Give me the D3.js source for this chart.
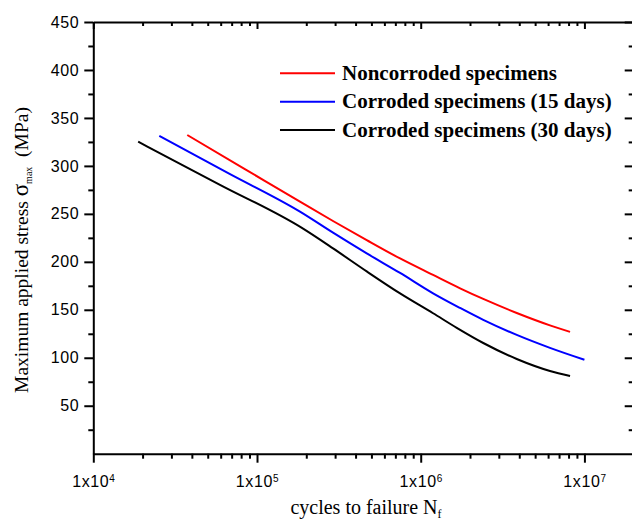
<!DOCTYPE html>
<html lang="en">
<head>
    <meta charset="UTF-8">
    <title>S-N curves</title>
    <script src="https://d3js.org/d3.v7.min.js"></script>
    <style>
        body { margin: 0; background: #fff; }
        .tick text { font-family: Arial, "Liberation Sans", sans-serif; font-size: 16px; fill: #000; }
        .domain, .tick line { stroke: #000; stroke-width: 2px; }
    </style>
</head>
<body>
    <div class="canvas"></div>
    <script>
      // series
      const seriesNames = ['Noncorroded specimens', 'Corroded specimens (15 days)', 'Corroded specimens (30 days)'];
      const seriesColors = ['#ff0000', '#0000ff', '#000000'];

      const cyclesNon = [3.75e4, 8.28e4, 1.83e5, 2.93e5, 4.68e5, 7.48e5, 1.19e6, 1.74e6, 2.41e6, 3.86e6, 6.16e6, 8.17e6];
      const stressNon = [332.2, 297.5, 262.7, 242.3, 222.6, 203.5, 186.3, 172.4, 161.3, 146.7, 133.8, 127.0];

      const cycles15 = [2.53e4, 6.8e4, 1.83e5, 2.93e5, 4.68e5, 7.48e5, 1.19e6, 1.74e6, 2.41e6, 3.86e6, 6.16e6, 1.0e7];
      const stress15 = [331.2, 291.7, 252.3, 230.1, 208.8, 188.4, 167.2, 151.9, 139.5, 123.8, 110.3, 97.9];

      const cycles30 = [1.88e4, 5.94e4, 1.88e5, 2.93e5, 4.68e5, 7.48e5, 1.19e6, 1.66e6, 2.41e6, 3.86e6, 6.16e6, 8.17e6];
      const stress30 = [325.2, 280.3, 235.3, 213.7, 190.0, 167.1, 146.4, 131.2, 115.4, 98.7, 86.2, 81.0];

      const xMajor = [1e4, 1e5, 1e6, 1e7];
      const yMajor = [50, 100, 150, 200, 250, 300, 350, 400, 450];
      const yMinor = [25, 75, 125, 175, 225, 275, 325, 375, 425];

      const width = 632;
      const height = 523;
      const [x0, x1, y0, y1] = [93.3, 633.7, 453.7, 22];

      const svg = d3.select('.canvas')
                      .append('svg')
                      .attr('width', width)
                      .attr('height', height);

      const x = d3.scaleLog().domain([1e4, 2e7]).range([x0, x1]);
      const y = d3.scaleLinear().domain([0, 450]).range([y0, y1]);

      const xMinor = [];
      xMajor.forEach(d => {
        for (let k = 2; k <= 9; k++) if (d * k <= 2e7) xMinor.push(d * k);
      });

      const supFormat = (sel) => {
        sel.selectAll('.tick text').each(function(d) {
          const t = d3.select(this).text('');
          t.append('tspan').text('1x10');
          t.append('tspan')
            .attr('dy', '-0.55em')
            .style('font-size', '10px')
            .text(Math.round(Math.log10(d)));
        });
      };

      // bottom axis
      svg.append('g')
        .attr('transform', `translate(0, ${y0})`)
        .call(d3.axisBottom(x).tickValues(xMinor).tickSize(5).tickFormat(''))
        .call(g => g.select('.domain').remove());
      svg.append('g')
        .attr('transform', `translate(0, ${y0})`)
        .call(d3.axisBottom(x).tickValues(xMajor).tickSizeInner(9).tickSizeOuter(0).tickPadding(13))
        .call(g => g.selectAll('.tick text').style('letter-spacing', '0.6px'))
        .call(supFormat);

      // top axis (inward ticks)
      svg.append('g')
        .attr('transform', `translate(0, ${y1})`)
        .call(d3.axisBottom(x).tickValues(xMinor).tickSize(4).tickFormat(''))
        .call(g => g.select('.domain').remove());
      svg.append('g')
        .attr('transform', `translate(0, ${y1})`)
        .call(d3.axisBottom(x).tickValues(xMajor).tickSizeInner(7).tickSizeOuter(0).tickFormat(''));

      // left axis
      svg.append('g')
        .attr('transform', `translate(${x0}, 0)`)
        .call(d3.axisLeft(y).tickValues(yMinor).tickSize(5).tickFormat(''))
        .call(g => g.select('.domain').remove());
      svg.append('g')
        .attr('transform', `translate(${x0}, 0)`)
        .call(d3.axisLeft(y).tickValues(yMajor).tickSizeInner(9).tickSizeOuter(0).tickPadding(5))
        .call(g => g.selectAll('.tick text').style('letter-spacing', '0.6px'));

      // right axis (inward ticks)
      svg.append('g')
        .attr('transform', `translate(${x1}, 0)`)
        .call(d3.axisLeft(y).tickValues(yMinor).tickSize(5).tickFormat(''))
        .call(g => g.select('.domain').remove());
      svg.append('g')
        .attr('transform', `translate(${x1}, 0)`)
        .call(d3.axisLeft(y).tickValues(yMajor).tickSizeInner(9).tickSizeOuter(0).tickFormat(''));

      // curves
      const series = [
        d3.zip(cyclesNon, stressNon),
        d3.zip(cycles15, stress15),
        d3.zip(cycles30, stress30)
      ];
      const line = d3.line()
                      .x(d => x(d[0]))
                      .y(d => y(d[1]))
                      .curve(d3.curveMonotoneX);

      svg.selectAll('path.curve')
        .data(series)
        .enter()
        .append('path')
        .attr('class', 'curve')
        .attr('fill', 'none')
        .attr('stroke', (d, i) => seriesColors[i])
        .attr('stroke-width', 2)
        .attr('d', line);

      // legend
      const legend = svg.append('g');
      seriesNames.forEach((name, i) => {
        const ly = 73.3 + i * 28.4;
        legend.append('line')
          .attr('x1', 280).attr('x2', 335)
          .attr('y1', ly).attr('y2', ly)
          .attr('stroke', seriesColors[i])
          .attr('stroke-width', 2);
        legend.append('text')
          .attr('x', 342).attr('y', ly + 6.5)
          .style('font-family', '"Times New Roman", "Liberation Serif", serif')
          .style('font-weight', 'bold')
          .style('font-size', '21px')
          .text(name);
      });

      // axis titles
      const xt = svg.append('text')
        .attr('x', 366).attr('y', 514)
        .attr('text-anchor', 'middle')
        .style('font-family', '"Times New Roman", "Liberation Serif", serif')
        .style('font-size', '20px');
      xt.append('tspan').text('cycles to failure N');
      xt.append('tspan').attr('dy', 4).style('font-size', '12px').text('f');

      const yt = svg.append('text')
        .attr('transform', 'translate(28, 250) rotate(-90)')
        .attr('text-anchor', 'middle')
        .style('font-family', '"Times New Roman", "Liberation Serif", serif')
        .style('font-size', '19.5px');
      yt.append('tspan').text('Maximum applied stress ');
      yt.append('tspan').style('font-size', '23px').text('σ');
      yt.append('tspan').attr('dy', 4).style('font-size', '10px').text('max');
      yt.append('tspan').attr('dy', -4).text('  (MPa)').style('white-space', 'pre');
    </script>
</body>
</html>
